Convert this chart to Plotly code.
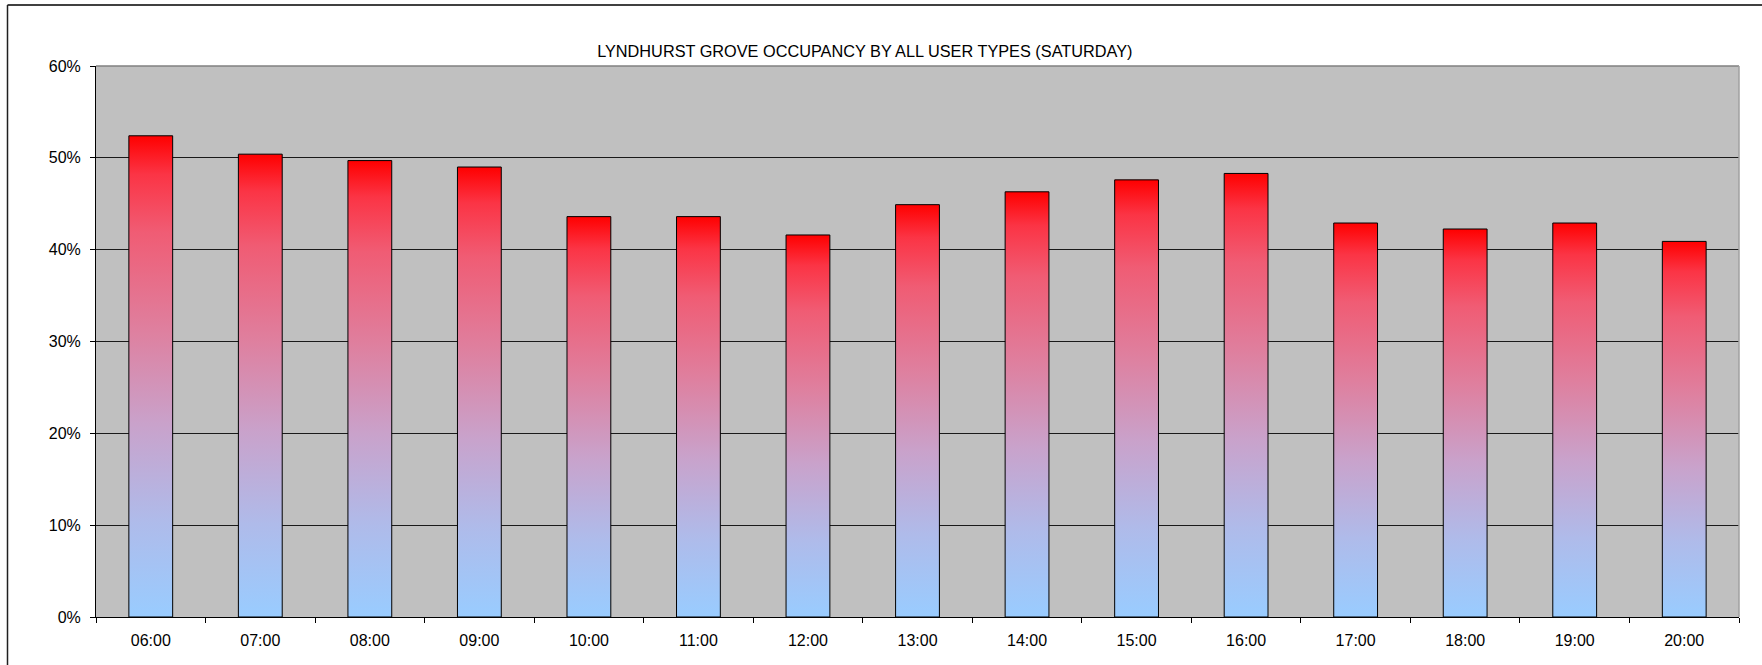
import plotly.graph_objects as go

# ---- data ----
hours = ["06:00", "07:00", "08:00", "09:00", "10:00", "11:00", "12:00", "13:00",
         "14:00", "15:00", "16:00", "17:00", "18:00", "19:00", "20:00"]
occupancy = [0.524, 0.504, 0.497, 0.490, 0.436, 0.436, 0.416, 0.449,
             0.463, 0.476, 0.483, 0.429, 0.4225, 0.429, 0.409]
y_ticks = [0.0, 0.1, 0.2, 0.3, 0.4, 0.5, 0.6]
title_text = "LYNDHURST GROVE OCCUPANCY BY ALL USER TYPES (SATURDAY)"

# ---- layout constants ----
W, H = 1762, 665
ML, MR, MT, MB = 96, 23, 66, 48
PW, PH = W - ML - MR, H - MT - MB
BAR_HALF = 0.2
FONT = "Liberation Sans, Arial, sans-serif"

gradient = [
    [0.0, "#99CCFF"],
    [0.2, "#AFBBEA"],
    [0.4, "#C9A2CB"],
    [0.6, "#DF7F9E"],
    [0.8, "#F05C74"],
    [0.92, "#FB3445"],
    [1.0, "#FF0000"],
]

fig = go.Figure()
for i, v in enumerate(occupancy):
    fig.add_trace(go.Scatter(
        x=[i - BAR_HALF, i - BAR_HALF, i + BAR_HALF, i + BAR_HALF, i - BAR_HALF],
        y=[0, v, v, 0, 0],
        mode="lines",
        fill="toself",
        fillgradient=dict(type="vertical", colorscale=gradient, start=0, stop=v),
        line=dict(color="#000000", width=1),
        hoverinfo="skip",
        showlegend=False,
    ))

def px_x(p):
    return (p - ML) / PW

def px_y(p):
    return 1 - (p - MT) / PH

shapes = [
    # plot-area top and right borders (grey)
    dict(type="line", xref="paper", yref="paper", x0=0, x1=1, y0=1, y1=1,
         line=dict(color="#808080", width=1.5), layer="above"),
    dict(type="line", xref="paper", yref="paper", x0=1, x1=1, y0=0, y1=1,
         line=dict(color="#A0A0A0", width=1.5), layer="above"),
    # outer chart frame (left and top)
    dict(type="line", xref="paper", yref="paper", x0=px_x(7.5), x1=px_x(W + 5),
         y0=px_y(5), y1=px_y(5), line=dict(color="#404040", width=2)),
    dict(type="line", xref="paper", yref="paper", x0=px_x(7.5), x1=px_x(7.5),
         y0=px_y(5), y1=px_y(H + 5), line=dict(color="#202020", width=1.5)),
]

fig.update_layout(
    width=W, height=H,
    margin=dict(l=ML, r=MR, t=MT, b=MB, pad=0),
    paper_bgcolor="#FFFFFF",
    plot_bgcolor="#C0C0C0",
    font=dict(family=FONT, size=16, color="#000000"),
    title=dict(text=title_text, x=864.8 / W, xanchor="center", xref="container",
               y=1 - 51.5 / H, yanchor="middle", yref="container",
               font=dict(family=FONT, size=16.3, color="#000000")),
    shapes=shapes,
    showlegend=False,
)

fig.update_xaxes(
    range=[-0.5, len(hours) - 0.5],
    tickmode="array",
    tickvals=list(range(len(hours))),
    ticktext=hours,
    ticks="",
    ticklabelstandoff=9,
    showgrid=False,
    zeroline=False,
    showline=True,
    linecolor="#000000",
    linewidth=1,
    minor=dict(tickmode="array",
               tickvals=[i - 0.5 for i in range(len(hours) + 1)],
               ticks="outside", ticklen=5, tickcolor="#000000", tickwidth=1,
               showgrid=False),
    tickfont=dict(family=FONT, size=16, color="#000000"),
)

fig.update_yaxes(
    range=[0, 0.6],
    tickmode="array",
    tickvals=y_ticks,
    tickformat=".0%",
    ticks="outside",
    ticklen=5,
    tickcolor="#000000",
    ticklabelstandoff=6,
    showgrid=True,
    gridcolor="#1A1A1A",
    gridwidth=1,
    zeroline=False,
    showline=True,
    linecolor="#000000",
    linewidth=1,
    tickfont=dict(family=FONT, size=16, color="#000000"),
)

fig.write_html("out.html",
               config={"displayModeBar": False},
               post_script="document.body.style.margin='0';document.body.style.overflow='hidden';")
